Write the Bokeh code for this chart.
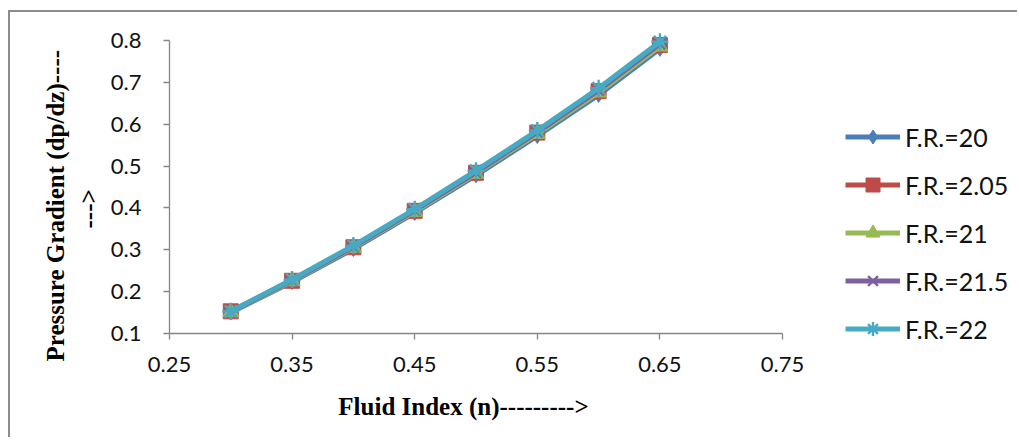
from bokeh.plotting import figure
from bokeh.models import Legend, LegendItem, FixedTicker, Range1d
from bokeh.embed import file_html
from bokeh.resources import INLINE

# ---- data ----
fluid_index = [0.30, 0.35, 0.40, 0.45, 0.50, 0.55, 0.60, 0.65]
fr_20 = [0.150, 0.223, 0.302, 0.388, 0.478, 0.572, 0.670, 0.780]
fr_205 = [0.153, 0.226, 0.306, 0.393, 0.484, 0.580, 0.679, 0.789]
fr_21 = [0.151, 0.225, 0.305, 0.391, 0.482, 0.577, 0.676, 0.786]
fr_215 = [0.152, 0.227, 0.307, 0.394, 0.485, 0.581, 0.681, 0.792]
fr_22 = [0.153, 0.229, 0.310, 0.397, 0.489, 0.585, 0.686, 0.797]
series_names = ["F.R.=20", "F.R.=2.05", "F.R.=21", "F.R.=21.5", "F.R.=22"]
series_values = [fr_20, fr_205, fr_21, fr_215, fr_22]
x_ticks = [0.25, 0.35, 0.45, 0.55, 0.65, 0.75]
y_ticks = [0.1, 0.2, 0.3, 0.4, 0.5, 0.6, 0.7, 0.8]
x_title = "Fluid Index (n)--------->"
y_title_lines = ["Pressure Gradient (dp/dz)----", "--->"]

colors = ["#4A7EBB", "#BE4B48", "#98B954", "#7D60A0", "#46AAC5"]
markers = ["diamond", "square", "triangle", "x", "asterisk"]
msizes = [15, 15, 16, 15, 17]

NB = "\u00a0"
OX, OY = 10, 12                 # canvas offset (margin); chart-area border drawn as shadow
W, H = 1019 - OX, 443 - OY - 4
# the frame covers the whole canvas; axes are pinned inside it
AX_L, AX_R, AX_T, AX_B = 169, 782, 40, 333   # page px of x=0.25, x=0.75, y=0.8, y=0.1
kx = 0.5 / (AX_R - AX_L)
ky = 0.7 / (AX_B - AX_T)
x_start = 0.25 - (AX_L - OX) * kx
x_end = 0.25 + (OX + W - AX_L) * kx
y_end = 0.8 + (AX_T - OY) * ky
y_start = 0.1 - (OY + H - AX_B) * ky

p = figure(width=W, height=H, output_backend="svg", toolbar_location=None,
           x_range=Range1d(x_start, x_end), y_range=Range1d(y_start, y_end),
           min_border_left=0, min_border_right=0, min_border_top=0, min_border_bottom=0)
p.margin = (OY, 0, 0, OX)
p.styles = {"box-shadow": "-2px -2px 0px 0px #8C8C8C"}
p.background_fill_color = "white"
p.border_fill_color = "white"
p.outline_line_color = None
p.xgrid.grid_line_color = None
p.ygrid.grid_line_color = None

for ax in (p.xaxis[0], p.yaxis[0]):
    ax.axis_line_color = "#868686"
    ax.axis_line_width = 1.3
    ax.major_tick_line_color = "#868686"
    ax.major_tick_line_width = 1.3
    ax.major_tick_out = 6
    ax.major_tick_in = 0
    ax.minor_tick_line_color = None
    ax.major_label_text_font = "Lato"
    ax.major_label_text_font_size = "22px"
    ax.major_label_text_color = "#111111"
    ax.axis_label_text_font = "Liberation Serif"
    ax.axis_label_text_font_style = "bold"
    ax.axis_label_text_font_size = "25px"
    ax.axis_label_text_color = "#000000"

p.xaxis.fixed_location = 0.1
p.yaxis.fixed_location = 0.25
p.xaxis.bounds = (0.25, 0.75)
p.yaxis.bounds = (0.1, 0.8)
p.xaxis.ticker = FixedTicker(ticks=x_ticks)
p.yaxis.ticker = FixedTicker(ticks=y_ticks)
p.xaxis.major_label_overrides = {t: f"{t:.2f}" for t in x_ticks}
p.yaxis.major_label_overrides = {t: f"{t:.1f}" for t in y_ticks}
p.xaxis.major_label_standoff = 17
p.yaxis.major_label_standoff = 22
# no-break-space padding nudges the titles to where the reference has them
p.xaxis.axis_label = x_title + NB * 4
p.yaxis.axis_label = "\n".join([y_title_lines[0] + NB * 6, y_title_lines[1] + NB * 7])
p.xaxis.axis_label_standoff = 18
p.yaxis.axis_label_standoff = 6

items = []
for name, vals, c, m, s in zip(series_names, series_values, colors, markers, msizes):
    r1 = p.line(fluid_index, vals, line_color=c, line_width=5)
    if m in ("x", "asterisk"):
        r2 = p.scatter(fluid_index, vals, marker=m, size=s, line_color=c, line_width=2.4)
    else:
        r2 = p.scatter(fluid_index, vals, marker=m, size=s, fill_color=c, line_color=c)
    items.append(LegendItem(label=name, renderers=[r1, r2]))

# legend: first entry centred at page y = 134, entries 48.5 px apart
legend = Legend(items=items, location=(845 - OX, OY + H - 346), orientation="vertical",
                glyph_width=55, glyph_height=35, label_height=25, spacing=13,
                label_standoff=5, padding=0, margin=0,
                label_text_font="Lato", label_text_font_size="25px",
                label_text_color="#111111", border_line_color=None,
                background_fill_alpha=0)
p.add_layout(legend, "center")

open("out.html", "w").write(file_html(p, INLINE))
